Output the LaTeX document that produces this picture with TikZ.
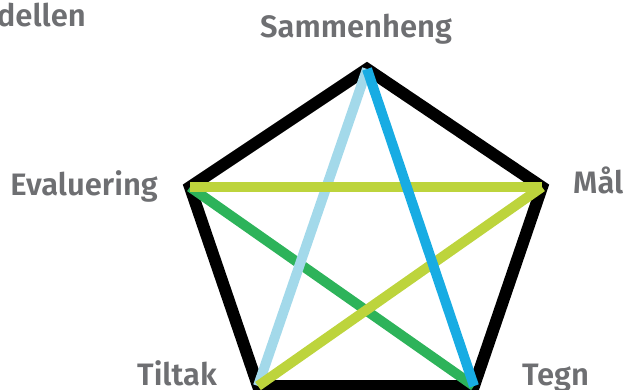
\documentclass[tikz,border=0pt]{standalone}
\usepackage{fontspec}
\setmainfont{Fira Sans}[BoldFont={Fira Sans SemiBold}]
\definecolor{lbl}{HTML}{6E6F72}
\definecolor{lblue}{HTML}{A3D9EA}
\definecolor{cblue}{HTML}{18ACE3}
\definecolor{ygreen}{HTML}{BDD43C}
\definecolor{cgreen}{HTML}{2DB35A}
\tikzset{
  lab/.style={text=lbl, font=\fontsize{31}{31}\selectfont\bfseries, inner sep=0pt},
  edge/.style={line width=12pt, line join=miter, black},
  star/.style={line width=10pt}
}
\begin{document}
\begin{tikzpicture}[x=1pt,y=-1pt]
\useasboundingbox (0,0) rectangle (629,389);
\clip (0,0) rectangle (629,389);
\coordinate (T) at (367,69);
\coordinate (R) at (542,187);
\coordinate (BR) at (474,386);
\coordinate (BL) at (258,386);
\coordinate (L) at (190,187);
\draw[edge] (T) -- (R) -- (BR) -- (BL) -- (L) -- cycle;
\draw[star, cgreen] (L) -- (BR);
\draw[star, lblue] (T) -- (BL);
\draw[star, ygreen] (L) -- (R);
\draw[star, ygreen] (R) -- (BL);
\draw[star, cblue] (T) -- (BR);
\node[lab, anchor=base east] (title) at (86,26) {dellen};
\node[lab, anchor=base] (s) at (356,37) {Sammenheng};
\node[lab, anchor=base east] (e) at (158,195) {Evaluering};
\node[lab, anchor=base west] (m) at (573,193) {Mål};
\node[lab, anchor=base west] (t) at (137,385) {Tiltak};
\node[lab, anchor=base west] (g) at (522,385) {Tegn};
\end{tikzpicture}
\end{document}
